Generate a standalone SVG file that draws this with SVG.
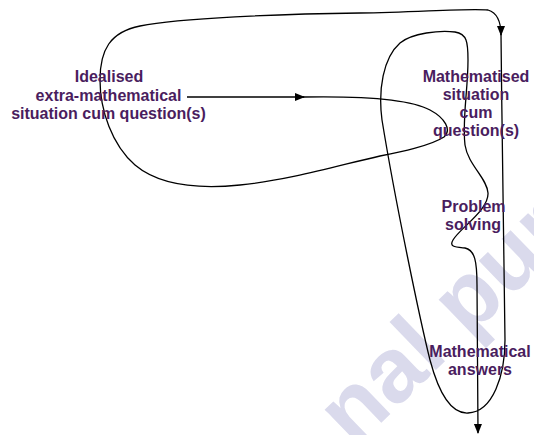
<svg xmlns="http://www.w3.org/2000/svg" width="534" height="435" viewBox="0 0 534 435">
<style>
  .lbl { font-family: "Liberation Sans", Arial, sans-serif; font-weight: bold; font-size: 16px; fill: #4a1d5e; text-anchor: middle; }
  .wm { font-family: "Liberation Sans", Arial, sans-serif; font-weight: bold; font-size: 92px; fill: #dadaec; }
  .conn { fill: none; stroke: #000; stroke-width: 1.3; }
</style>
<defs>
  <marker id="arr" markerUnits="userSpaceOnUse" markerWidth="10" markerHeight="10" viewBox="0 0 10 10" refX="9" refY="5" orient="auto">
    <path d="M0,1 L10,5 L0,9 Z" fill="#000"/>
  </marker>
</defs>
<rect width="534" height="435" fill="#fff"/>
<text class="wm" x="354" y="449" transform="rotate(-44 354 449)">nal pur</text>
<g id="connectors">
  <path class="conn" d="M187,97 L304,97" marker-end="url(#arr)"/>
  <path class="conn" d="M303,97 C360,96 410,99 430,110 C445,118 452,130 444,137 C430,146 400,152 380,156 C340,165 290,180 240,185 C200,189 160,186 135,165 C112,145 100,110 100,80 C100,50 110,32 140,26 C180,18 280,14 360,13 C420,12 470,8 488,10 C498,13 501,22 501,35" marker-end="url(#arr)"/>
  <path class="conn" d="M501,34 C502,150 505,280 505,340 C505,375 493,412 468,413 C450,414 438,390 430,360 C420,320 395,200 382,120 C378,90 383,58 400,43 C412,33 440,30 455,32 C467,34 468,42 468,60 C468,90 462,120 465,145 C468,165 487,178 488,193 C489,210 460,228 453,240 C449,247 455,247 465,248 C475,250 477,262 477,285 L478,433" marker-end="url(#arr)"/>
</g>
<g id="idealised">
  <text class="lbl" x="109" y="82">Idealised</text>
  <text class="lbl" x="108.5" y="101">extra-mathematical</text>
  <text class="lbl" x="108.5" y="119">situation cum question(s)</text>
</g>
<g id="mathematised">
  <text class="lbl" x="476" y="82">Mathematised</text>
  <text class="lbl" x="476" y="100">situation</text>
  <text class="lbl" x="476" y="118">cum</text>
  <text class="lbl" x="476" y="136">question(s)</text>
</g>
<g id="problem-solving">
  <text class="lbl" x="473.5" y="212">Problem</text>
  <text class="lbl" x="473" y="230">solving</text>
</g>
<g id="answers">
  <text class="lbl" x="480" y="357">Mathematical</text>
  <text class="lbl" x="480" y="375">answers</text>
</g>
</svg>
